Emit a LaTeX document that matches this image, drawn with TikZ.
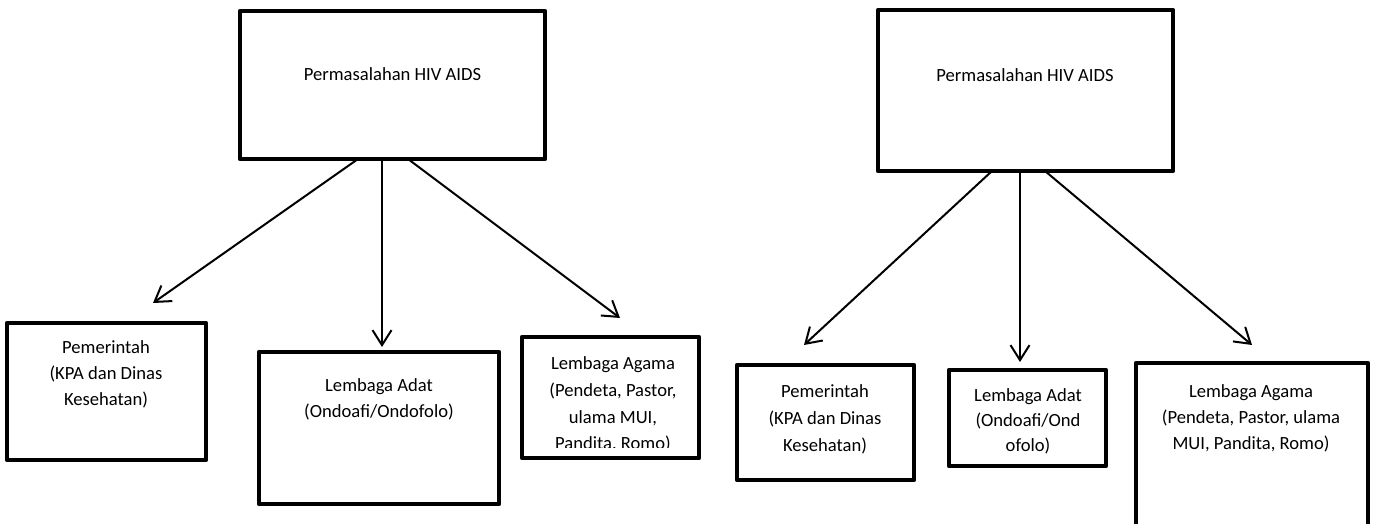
\documentclass[tikz,border=0pt]{standalone}
\usepackage{fontspec}
\setmainfont{Carlito}
\usetikzlibrary{arrows.meta}
\begin{document}
\begin{tikzpicture}[x=1pt,y=-1pt,
  box/.style={draw=black, line width=4.5pt, line join=round, rectangle,
    inner sep=0pt, outer sep=0pt},
  lbl/.style={anchor=base, inner sep=0pt, font=\fontsize{18.6}{26}\selectfont},
  link/.style={draw=black, line width=2pt,
    -{Straight Barb[length=15pt, width=19pt, line width=2pt]}},
]
\clip (0,0) rectangle (1376,524);
\fill[white] (0,0) rectangle (1376,524);

% ---------- left chart ----------
\node[box, minimum width=305pt, minimum height=148pt] (topA) at (392.5,85) {};
\node[lbl] (topAt) at (392.5,81) {Permasalahan HIV AIDS};

\node[box, minimum width=199pt, minimum height=137pt] (pemA) at (106.5,391.5) {};
\node[lbl] (pemA1) at (106,353) {Pemerintah};
\node[lbl] (pemA2) at (106,379) {(KPA dan Dinas};
\node[lbl] (pemA3) at (106,405) {Kesehatan)};

\node[box, minimum width=240pt, minimum height=152pt] (adatA) at (379,428) {};
\node[lbl] (adatA1) at (379,391) {Lembaga Adat};
\node[lbl] (adatA2) at (379,417) {(Ondoafi/Ondofolo)};

\node[box, minimum width=177pt, minimum height=121pt] (agamaA) at (610.5,397.5) {};
\begin{scope}
  \clip (525,340) rectangle (696,447);
  \node[lbl] (agamaA1) at (613,369) {Lembaga Agama};
  \node[lbl] (agamaA2) at (613,396) {(Pendeta, Pastor,};
  \node[lbl] (agamaA3) at (613,423) {ulama MUI,};
  \node[lbl] (agamaA4) at (613,449) {Pandita, Romo)};
\end{scope}

\coordinate (tipA1) at (153,303);
\coordinate (tipA2) at (382,347);
\coordinate (tipA3) at (620,318);
\draw[link] ([xshift=-34.5pt]topA.south) -- (tipA1);
\draw[link] ([xshift=-10.5pt]topA.south) -- (tipA2);
\draw[link] ([xshift=15.5pt]topA.south) -- (tipA3);

% ---------- right chart ----------
\node[box, minimum width=295pt, minimum height=161pt] (topB) at (1025.5,90.5) {};
\node[lbl] (topBt) at (1025,82) {Permasalahan HIV AIDS};

\node[box, minimum width=177pt, minimum height=115pt] (pemB) at (825.5,422.5) {};
\node[lbl] (pemB1) at (825,397) {Pemerintah};
\node[lbl] (pemB2) at (825,424) {(KPA dan Dinas};
\node[lbl] (pemB3) at (825,451) {Kesehatan)};

\node[box, minimum width=157pt, minimum height=96pt] (adatB) at (1027.5,418) {};
\node[lbl] (adatB1) at (1028,401) {Lembaga Adat};
\node[lbl] (adatB2) at (1028,426) {(Ondoafi/Ond};
\node[lbl] (adatB3) at (1028,451) {ofolo)};

\node[box, minimum width=232pt, minimum height=172pt] (agamaB) at (1252,449) {};
\node[lbl] (agamaB1) at (1251,397) {Lembaga Agama};
\node[lbl] (agamaB2) at (1251,423) {(Pendeta, Pastor, ulama};
\node[lbl] (agamaB3) at (1251,449) {MUI, Pandita, Romo)};

\coordinate (tipB1) at (804,345);
\coordinate (tipB2) at (1020,362);
\coordinate (tipB3) at (1252,345);
\draw[link] ([xshift=-33.5pt]topB.south) -- (tipB1);
\draw[link] ([xshift=-5.5pt]topB.south) -- (tipB2);
\draw[link] ([xshift=19.5pt]topB.south) -- (tipB3);
\end{tikzpicture}
\end{document}
